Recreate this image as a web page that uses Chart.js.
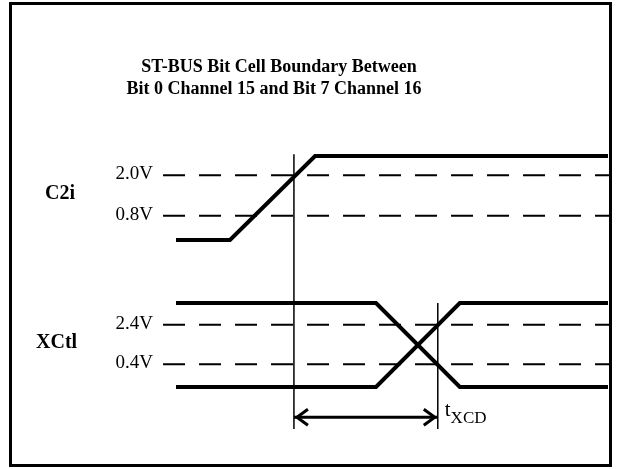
<!DOCTYPE html>
<html>
<head>
<meta charset="utf-8">
<script src="https://cdn.jsdelivr.net/npm/chart.js@4.4.1/dist/chart.umd.min.js"></script>
<style>
    html, body { margin: 0; padding: 0; background: #fff; }
    #wrap { width: 620px; height: 469px; position: relative; }
</style>
</head>
<body>
<div id="wrap"><canvas id="timingChart" width="620" height="469"></canvas></div>
<script>
// time axis: arbitrary units, 0 = start of traces, 100 = end of traces
// level axis: 1 unit = one logic swing, XCtl low = 0
const titleLines = ['ST-BUS Bit Cell Boundary Between', 'Bit 0 Channel 15 and Bit 7 Channel 16'];

const c2iTimes = [0, 12.5, 32.2, 100];
const c2iLevels = [1.75, 1.75, 2.75, 2.75];

const xctlTimes = [0, 46.3, 65.7, 100];
const xctlFall = [1, 1, 0, 0];
const xctlRise = [0, 0, 1, 1];

const thresholdNames = ['2.0V', '0.8V', '2.4V', '0.4V'];
const thresholdLevels = [2.52, 2.04, 0.74, 0.27];
const thresholdSpan = [-3.0, 100.7];

const signalNames = ['C2i', 'XCtl'];

const refTimes = [27.3, 60.6];
const refTop = [2.77, 1.0];
const refBottom = -0.5;

const arrowLevel = -0.36;
const arrowLabel = 'XCD';

const pts = (xs, ys) => xs.map((x, i) => ({ x, y: ys[i] }));

const datasets = [
    { data: pts(c2iTimes, c2iLevels), borderWidth: 4 },
    { data: pts(xctlTimes, xctlFall), borderWidth: 4 },
    { data: pts(xctlTimes, xctlRise), borderWidth: 4 }
];
thresholdLevels.forEach((lv) => {
    datasets.push({ data: pts(thresholdSpan, [lv, lv]), borderWidth: 2, borderDash: [22, 14] });
});
refTimes.forEach((t, i) => {
    datasets.push({ data: pts([t, t], [refTop[i], refBottom]), borderWidth: 1.5 });
});
datasets.push({ data: pts(refTimes, [arrowLevel, arrowLevel]), borderWidth: 3 });

datasets.forEach((d) => {
    d.showLine = true;
    d.borderColor = '#000';
    d.pointRadius = 0;
    d.tension = 0;
    d.borderCapStyle = 'butt';
    d.borderJoinStyle = 'miter';
});

const serif = '"Liberation Serif", "Times New Roman", serif';

const diagramDecor = {
    id: 'diagramDecor',
    afterDatasetsDraw(chart) {
        const { ctx, scales: { x, y } } = chart;
        ctx.save();

        // frame
        ctx.strokeStyle = '#000';
        ctx.lineWidth = 3;
        ctx.strokeRect(10.5, 3.5, 600, 462);

        // title
        ctx.fillStyle = '#000';
        ctx.textAlign = 'center';
        ctx.textBaseline = 'middle';
        ctx.font = 'bold 18px ' + serif;
        ctx.fillText(titleLines[0], 279, 67);
        ctx.fillText(titleLines[1], 274, 89);

        // threshold labels
        ctx.font = '19px ' + serif;
        ctx.textAlign = 'right';
        thresholdNames.forEach((n, i) => {
            ctx.fillText(n, x.getPixelForValue(thresholdSpan[0]) - 10, y.getPixelForValue(thresholdLevels[i]) - 1);
        });

        // signal names, centred between their thresholds
        ctx.font = 'bold 20px ' + serif;
        ctx.textAlign = 'left';
        signalNames.forEach((n, i) => {
            const mid = (thresholdLevels[i * 2] + thresholdLevels[i * 2 + 1]) / 2;
            ctx.fillText(n, i === 0 ? 45 : 36, y.getPixelForValue(mid) - 2);
        });

        // arrow heads
        const ay = y.getPixelForValue(arrowLevel);
        const x0 = x.getPixelForValue(refTimes[0]) + 3;
        const x1 = x.getPixelForValue(refTimes[1]) - 3;
        ctx.lineWidth = 3;
        ctx.beginPath();
        ctx.moveTo(x0 + 11, ay - 8); ctx.lineTo(x0, ay); ctx.lineTo(x0 + 11, ay + 8);
        ctx.moveTo(x1 - 11, ay - 8); ctx.lineTo(x1, ay); ctx.lineTo(x1 - 11, ay + 8);
        ctx.stroke();

        // t_XCD label
        const lx = x.getPixelForValue(refTimes[1]) + 7;
        ctx.font = '21px ' + serif;
        ctx.textBaseline = 'alphabetic';
        ctx.fillText('t', lx, ay - 1);
        const tw = ctx.measureText('t').width;
        ctx.font = '17px ' + serif;
        ctx.fillText(arrowLabel, lx + tw, ay + 6);

        ctx.restore();
    }
};

new Chart(document.getElementById('timingChart'), {
    type: 'scatter',
    data: { datasets },
    options: {
        responsive: false,
        animation: false,
        events: [],
        layout: { padding: 0 },
        plugins: { legend: { display: false }, tooltip: { enabled: false }, title: { display: false } },
        scales: {
            x: { type: 'linear', display: false, min: -40.74, max: 102.78 },
            y: { type: 'linear', display: false, min: -0.976, max: 4.607 }
        }
    },
    plugins: [diagramDecor]
});
</script>
</body>
</html>
